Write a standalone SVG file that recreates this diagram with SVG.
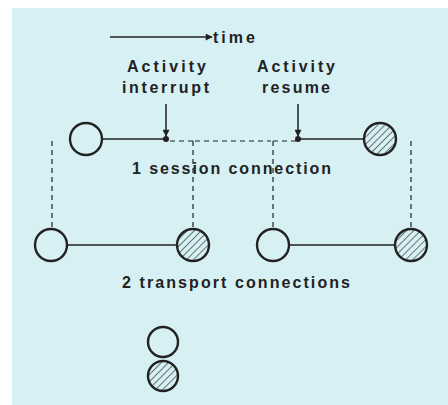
<svg xmlns="http://www.w3.org/2000/svg" width="448" height="405" viewBox="0 0 448 405">
<defs>
<pattern id="hatch" patternUnits="userSpaceOnUse" width="5" height="5" patternTransform="rotate(45)">
<rect width="5" height="5" fill="#d6f0f4"/>
<line x1="0" y1="0" x2="0" y2="5" stroke="#222" stroke-width="1.2"/>
</pattern>
<marker id="arr" viewBox="0 0 10 10" refX="9" refY="5" markerWidth="10" markerHeight="7" markerUnits="userSpaceOnUse" orient="auto">
<path d="M0,0 L10,5 L0,10 Z" fill="#222"/>
</marker>
</defs>
<style>
.t{font-family:"Liberation Sans",Arial,sans-serif;font-weight:bold;fill:#222;font-size:16px}
.o{fill:#d6f0f4;stroke:#222;stroke-width:2.4}
.h{fill:url(#hatch);stroke:#222;stroke-width:2.4}
.s{stroke:#222;stroke-width:1.5;fill:none}
.d{stroke:#222;stroke-width:1.2;fill:none;stroke-dasharray:5,4}
</style>
<rect width="448" height="405" fill="#ffffff"/>
<rect x="12" y="8" width="436" height="397" fill="#d6f0f4"/>
<g id="time">
<line x1="110" y1="37" x2="212" y2="37" class="s" marker-end="url(#arr)"/>
<text x="213" y="43" class="t" textLength="42" lengthAdjust="spacing">time</text>
</g>
<g id="labels">
<text x="127" y="72" class="t" textLength="79" lengthAdjust="spacing">Activity</text>
<text x="122" y="93" class="t" textLength="87" lengthAdjust="spacing">interrupt</text>
<text x="257" y="72" class="t" textLength="78" lengthAdjust="spacing">Activity</text>
<text x="262" y="93" class="t" textLength="68" lengthAdjust="spacing">resume</text>
<text x="132" y="174" class="t" textLength="199" lengthAdjust="spacing">1 session connection</text>
<text x="122" y="288" class="t" textLength="228" lengthAdjust="spacing">2 transport connections</text>
</g>
<g id="connectors">
<line x1="166" y1="104" x2="166" y2="136" class="s" marker-end="url(#arr)"/>
<line x1="298" y1="104" x2="298" y2="136" class="s" marker-end="url(#arr)"/>
<line x1="102" y1="139" x2="166" y2="139" class="s"/>
<line x1="298" y1="139" x2="364" y2="139" class="s"/>
<path d="M170,141 H193 M193,141 V230 M273,141 V230 M273,141 H296" class="d"/>
<line x1="195" y1="141" x2="271" y2="141" class="d"/>
<line x1="52" y1="141" x2="52" y2="229" class="d"/>
<line x1="411" y1="141" x2="411" y2="229" class="d"/>
<line x1="67" y1="245" x2="177" y2="245" class="s"/>
<line x1="289" y1="245" x2="395" y2="245" class="s"/>
<circle cx="166" cy="139" r="3" fill="#222"/>
<circle cx="298" cy="139" r="3" fill="#222"/>
</g>
<g id="n1"><circle cx="86" cy="139" r="16" class="o"/></g>
<g id="n2"><circle cx="380" cy="139" r="16" class="h"/></g>
<g id="n3"><circle cx="51" cy="245" r="16" class="o"/></g>
<g id="n4"><circle cx="193" cy="245" r="16" class="h"/></g>
<g id="n5"><circle cx="273" cy="245" r="16" class="o"/></g>
<g id="n6"><circle cx="411" cy="245" r="16" class="h"/></g>
<g id="legend1"><circle cx="163" cy="342" r="15" class="o"/></g>
<g id="legend2"><circle cx="163" cy="376" r="15" class="h"/></g>
</svg>
